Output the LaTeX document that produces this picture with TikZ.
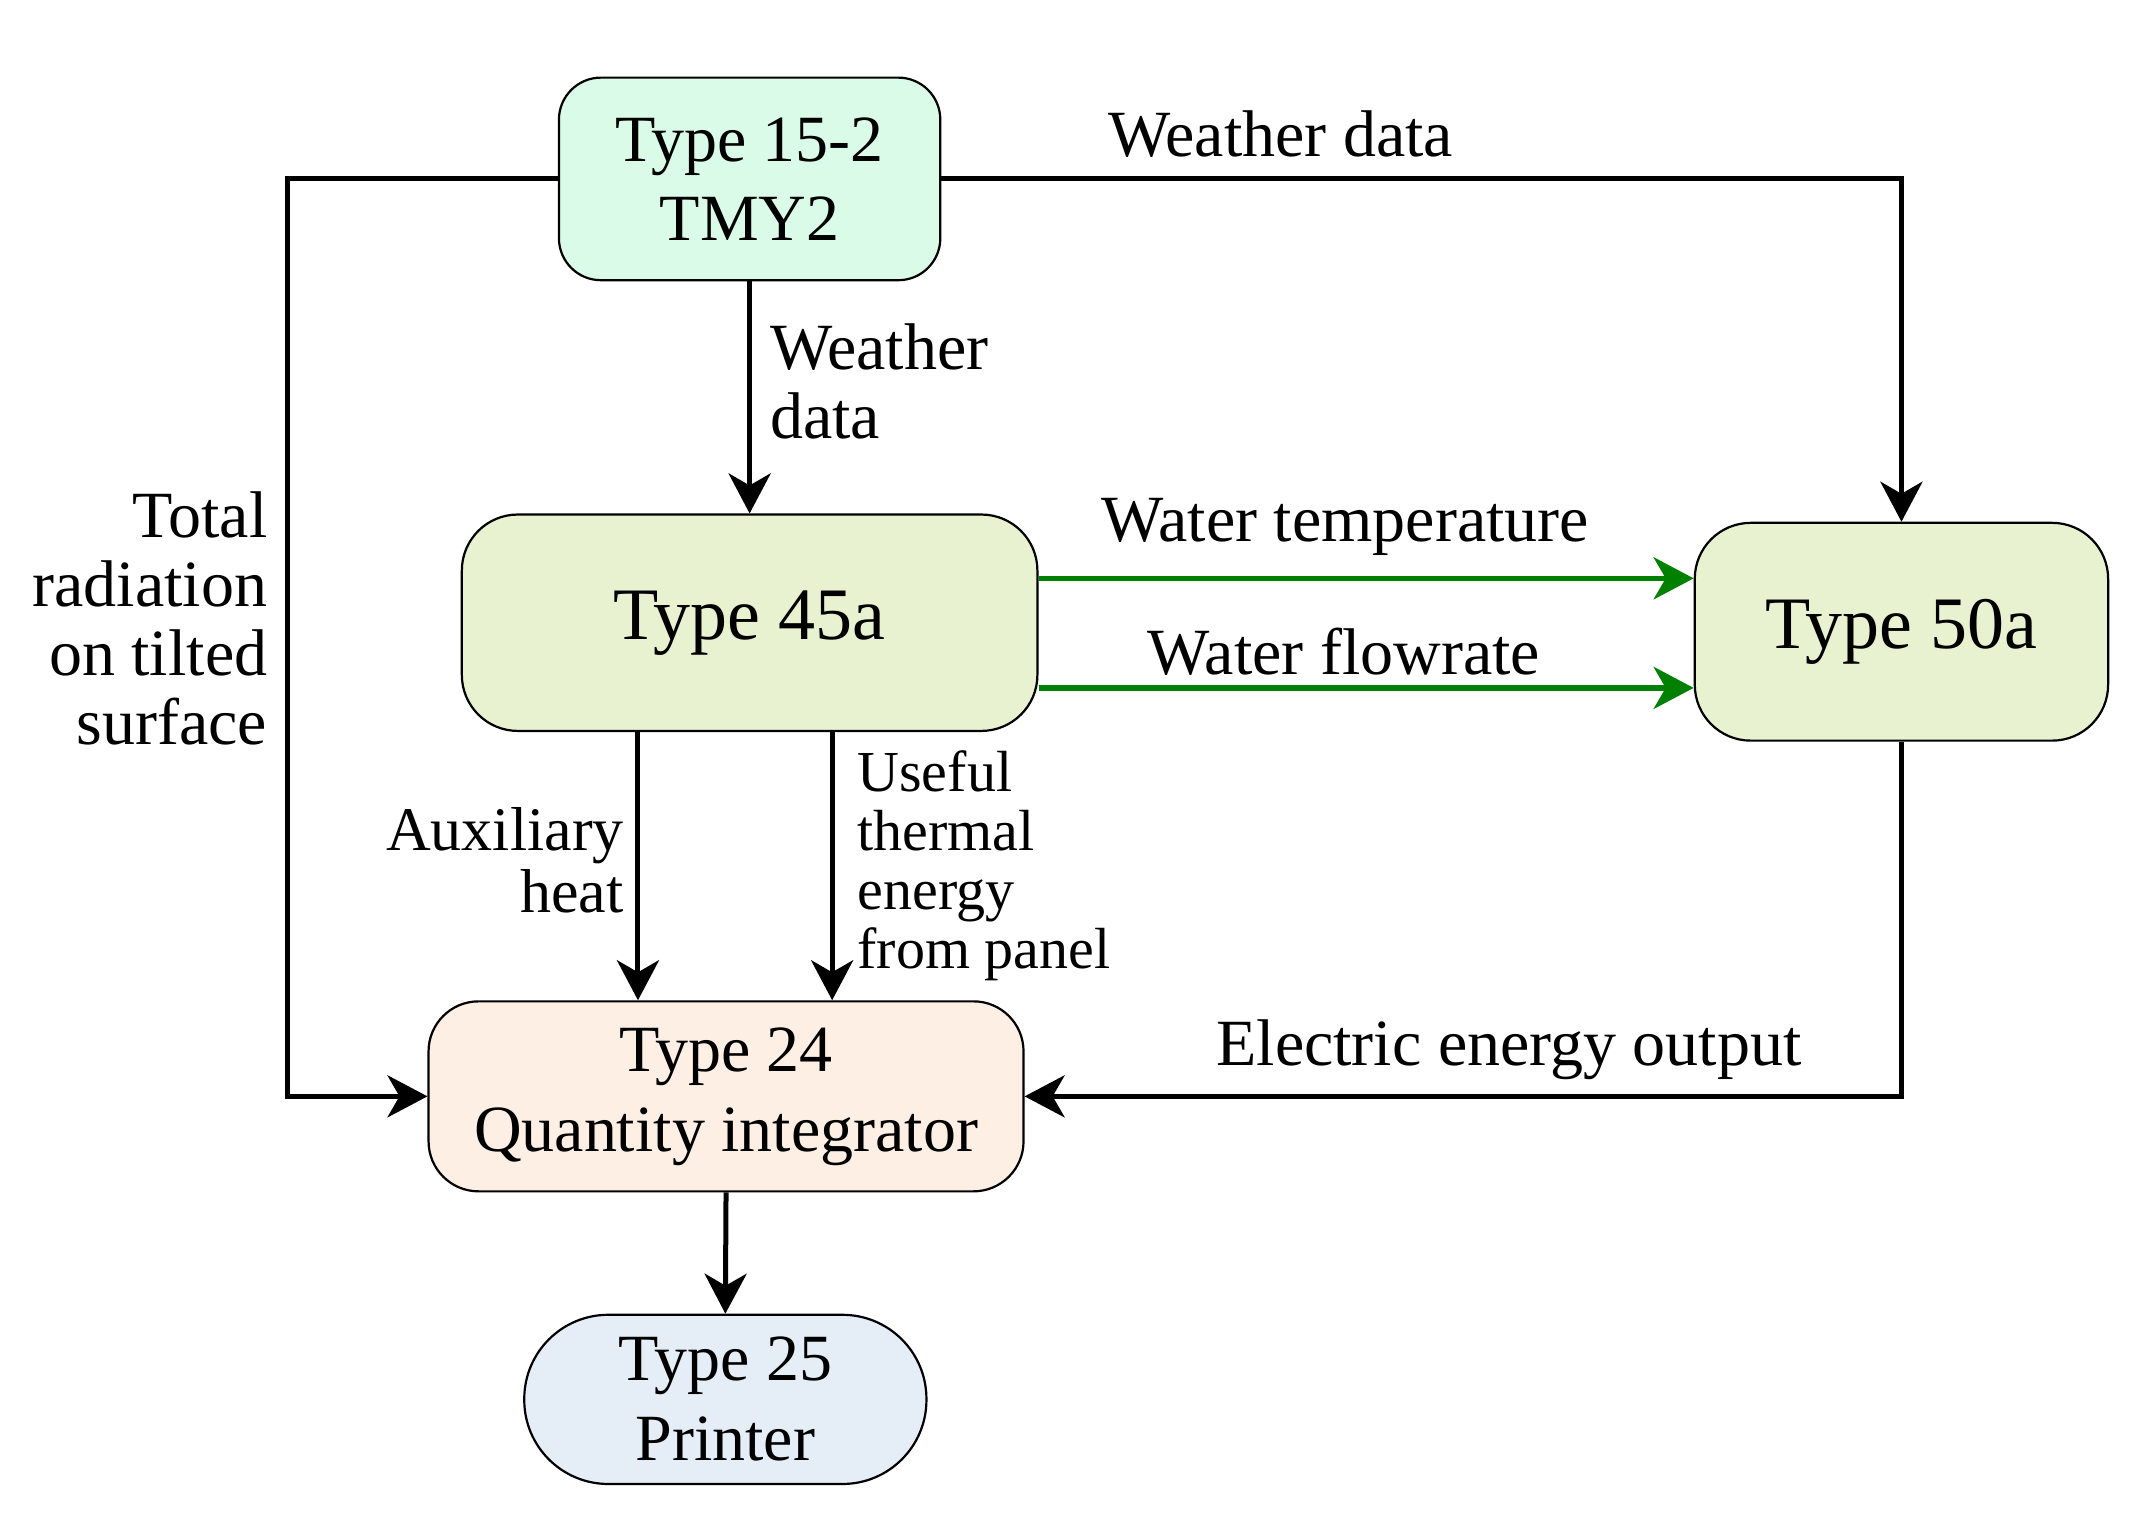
\documentclass[tikz,border=0pt]{standalone}
\usepackage{fontspec}
\setmainfont{Liberation Serif}
\usetikzlibrary{arrows.meta,calc}
\definecolor{mint}{RGB}{218,251,232}
\definecolor{lime}{RGB}{232,242,208}
\definecolor{peach}{RGB}{253,239,228}
\definecolor{pale}{RGB}{229,237,247}
\definecolor{flow}{RGB}{0,128,0}
\tikzset{
  box/.style={draw=black, line width=1.1pt, inner sep=0pt, align=center},
  conn/.style={line width=2.5pt, -{Stealth[length=20pt,width=21pt,inset=6pt]}},
  plainconn/.style={line width=2.5pt},
  greenconn/.style={line width=2.6pt, draw=flow, -{Stealth[length=20pt,width=21pt,inset=6pt]}},
  lbl/.style={inner sep=0pt, font=\fontsize{33pt}{34.5pt}\selectfont},
}
\begin{document}
\begin{tikzpicture}[x=0.6935pt,y=-0.6935pt]
\useasboundingbox (0,0) rectangle (1553.1,1097.4);

% nodes
\node[box, fill=mint, rounded corners=21pt, minimum width=190.7pt, minimum height=101.3pt,
      font=\fontsize{33pt}{39.5pt}\selectfont] (tmy) at (540.5,129) {Type 15-2\\TMY2};
\node[box, fill=lime, rounded corners=28pt, minimum width=287.8pt, minimum height=108.2pt,
      font=\fontsize{37pt}{44pt}\selectfont] (t45) at (540.5,449) {Type 45a};
\node[box, fill=lime, rounded corners=28pt, minimum width=206.7pt, minimum height=108.9pt,
      font=\fontsize{37pt}{44pt}\selectfont] (t50) at (1371,455.5) {Type 50a};
\node[box, fill=peach, rounded corners=25pt, minimum width=297.5pt, minimum height=95pt,
      font=\fontsize{33pt}{40pt}\selectfont] (t24) at (523.5,790.5) {Type 24\\Quantity integrator};
\node[box, fill=pale, rounded corners=42pt, minimum width=201.1pt, minimum height=84.6pt,
      font=\fontsize{33pt}{40pt}\selectfont] (t25) at (523,1009) {Type 25\\Printer};

% helper coordinates
\coordinate (L) at (207,0);
\coordinate (gy1) at (0,417);
\coordinate (gy2) at (0,496);
\coordinate (ax) at (460,0);
\coordinate (ux) at (600,0);

% connectors
\draw[conn] (tmy.west) -| (L |- t24.west) -- (t24.west);
\draw[conn] (tmy.east) -| (t50.north);
\draw[conn] (tmy.south) -- (t45.north);
\draw[greenconn] (t45.east |- gy1) -- (t50.west |- gy1);
\draw[greenconn] (t45.east |- gy2) -- (t50.west |- gy2);
\draw[conn] (t45.south -| ax) -- (t24.north -| ax);
\draw[conn] (t45.south -| ux) -- (t24.north -| ux);
\draw[conn] (t50.south) |- (t24.east);
\draw[conn] (t24.south) -- (t25.north);

% labels
\node[lbl] (lwd) at (923.5,97) {Weather data};
\node[lbl, anchor=west, align=left] (lwd2) at (555,275) {Weather\\data};
\node[lbl] (lwt) at (970,380) {Water temperature};
\node[lbl] (lwf) at (969,470) {Water flowrate};
\node[lbl, anchor=east, align=right] (ltr) at (193,446) {Total\\radiation\\on tilted\\surface};
\node[lbl, anchor=east, align=right, font=\fontsize{31pt}{31pt}\selectfont] (lax) at (450,620) {Auxiliary\\heat};
\node[lbl, anchor=west, align=left, font=\fontsize{29pt}{29.5pt}\selectfont] (lus) at (618,624) {Useful\\thermal\\energy\\from panel};
\node[lbl] (lee) at (1088,757) {Electric energy output};
\end{tikzpicture}
\end{document}
